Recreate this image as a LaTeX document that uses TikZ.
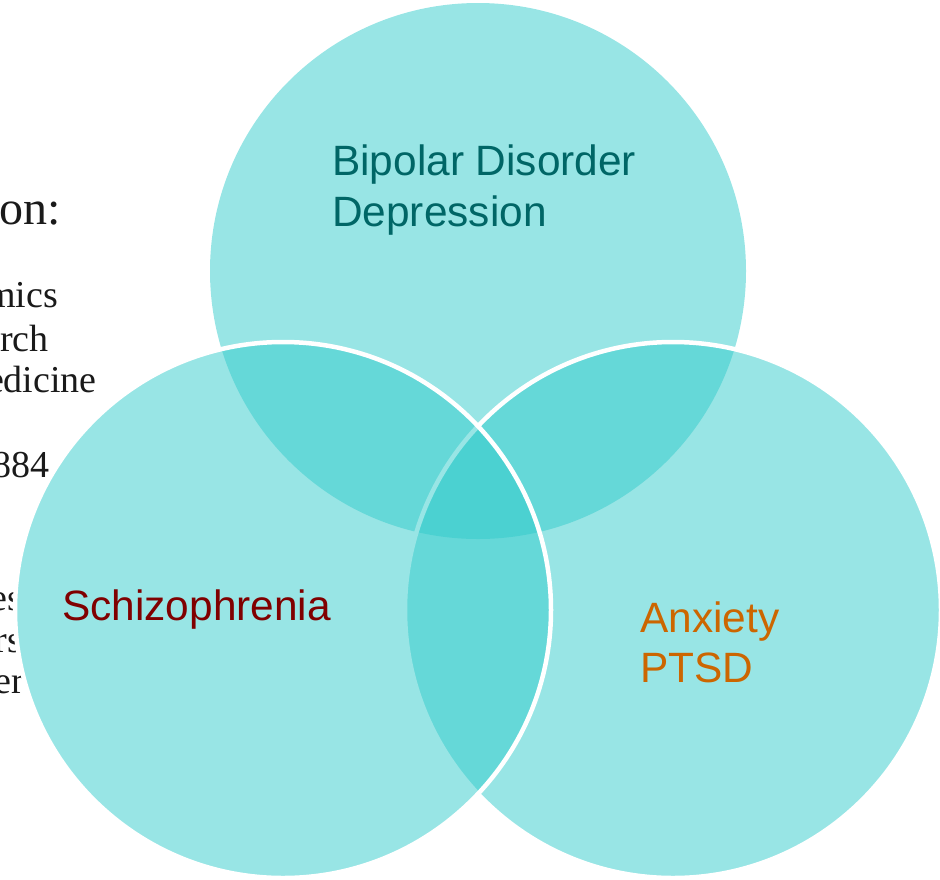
\documentclass[tikz,border=0pt]{standalone}
\usepackage{fontspec}
\setmainfont{Liberation Serif}
\newfontfamily\labelfont{Liberation Sans}
\definecolor{venn}{HTML}{33CCCC}
\definecolor{tealtxt}{HTML}{006666}
\definecolor{redtxt}{HTML}{800000}
\definecolor{orangetxt}{HTML}{CC6600}
\definecolor{bodytxt}{HTML}{1A1A1A}
\begin{document}
\begin{tikzpicture}[x=1pt,y=-1pt,
  vcircle/.style={circle, inner sep=0pt, outer sep=0pt, minimum size=536pt},
  backing/.style={vcircle, fill=white},
  tint/.style={vcircle, fill=venn, fill opacity=0.5},
  rim/.style={draw=white, line width=4.5pt},
  body/.style={font=\fontsize{38}{44}\selectfont, text=bodytxt, inner sep=0pt, anchor=base east},
  lbl/.style={font=\labelfont\fontsize{42.4}{51}\selectfont, inner sep=0pt, anchor=base west}
]
\useasboundingbox (0,0) rectangle (940,879);
% partly hidden text at the left
\node[body, font=\fontsize{48}{52}\selectfont] (t0) at (61,224) {on:};
\node[body] (t1) at (58,307) {mics};
\node[body] (t2) at (49,351) {rch};
\node[body] (t3) at (97,392) {edicine};
\node[body] (t4) at (50,477) {884};
\node[body] (t5) at (22,610) {es};
\node[body] (t6) at (22,652) {rs};
\node[body] (t7) at (24,693) {er};
% white backing so text is hidden beneath the circles
\node[backing] (bt) at (478,271) {};
\node[backing] (bl) at (283,610) {};
\node[backing] (br) at (673,610) {};
% tinted circles
\node[tint] (top) at (478,271) {};
\node[tint, rim] (right) at (673,610) {};
\node[tint, rim] (left) at (283,610) {};
% labels
\node[lbl, text=tealtxt] (l1a) at (332,175) {Bipolar Disorder};
\node[lbl, text=tealtxt] (l1b) at (332,226) {Depression};
\node[lbl, text=redtxt] (l2) at (62,620) {Schizophrenia};
\node[lbl, text=orangetxt] (l3a) at (640,632) {Anxiety};
\node[lbl, text=orangetxt] (l3b) at (640,682) {PTSD};
\end{tikzpicture}
\end{document}
